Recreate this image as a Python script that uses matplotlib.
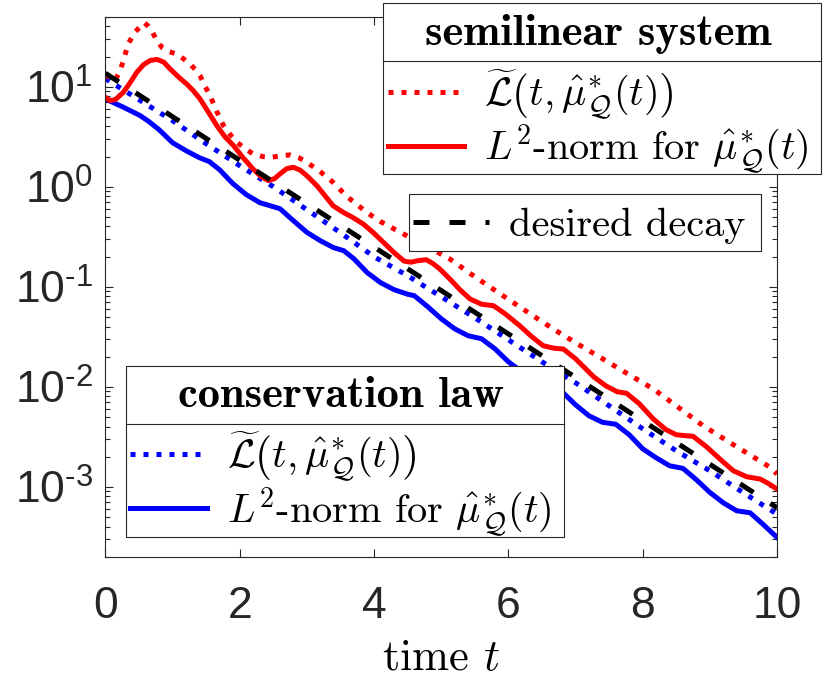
import numpy as np
import matplotlib
matplotlib.use('Agg')
import matplotlib.pyplot as plt
from matplotlib.font_manager import FontProperties
from matplotlib.lines import Line2D
from matplotlib.legend import Legend
from matplotlib.patches import Rectangle
from matplotlib.ticker import LogLocator, NullFormatter, FixedLocator, FixedFormatter

plt.rcParams['font.family'] = ['Liberation Sans', 'DejaVu Sans']
plt.rcParams['mathtext.fontset'] = 'custom'
plt.rcParams['mathtext.rm'] = 'Liberation Sans'
plt.rcParams['mathtext.it'] = 'Liberation Sans:italic'
plt.rcParams['mathtext.bf'] = 'Liberation Sans:bold'

# ---------------- data (stored as log10) -------------
# semilinear system: L-tilde (red dotted)
t_semi_Ltilde = [0.00, 0.07, 0.144, 0.22, 0.27, 0.34, 0.44, 0.52, 0.58, 0.63, 0.69, 0.76,
                 0.84, 0.95, 1.06, 1.16, 1.26, 1.34, 1.41, 1.48, 1.56, 1.66, 1.76, 1.86,
                 1.96, 2.08, 2.20, 2.35, 2.48, 2.62, 2.75, 2.88, 3.00, 3.20, 3.39, 3.60,
                 3.89, 4.10, 4.39, 4.60, 4.88, 5.13, 5.50, 5.92, 6.30, 6.67, 7.05, 7.41,
                 7.80, 8.16, 8.50, 8.90, 9.40, 9.90, 10.0]
log_semi_Ltilde = [1.117, 1.09, 1.06, 1.16, 1.26, 1.427, 1.544, 1.60, 1.64, 1.61, 1.56, 1.47,
                   1.394, 1.35, 1.327, 1.28, 1.227, 1.17, 1.11, 1.01, 0.91, 0.75, 0.61, 0.52,
                   0.444, 0.38, 0.327, 0.30, 0.294, 0.31, 0.317, 0.29, 0.244, 0.15, 0.044, -0.10,
                   -0.256, -0.35, -0.456, -0.53, -0.63, -0.723, -0.90, -1.09, -1.26, -1.423, -1.58, -1.723,
                   -1.88, -2.023, -2.19, -2.39, -2.60, -2.806, -2.873]

# semilinear system: L2-norm (red solid)
t_semi_L2 = [0.00, 0.07, 0.15, 0.27, 0.37, 0.47, 0.57, 0.67, 0.77, 0.87, 0.96, 1.10,
             1.21, 1.31, 1.41, 1.53, 1.66, 1.78, 1.91, 2.05, 2.20, 2.32, 2.43, 2.52,
             2.60, 2.70, 2.80, 2.90, 3.00, 3.15, 3.27, 3.39, 3.54, 3.69, 3.84, 3.99,
             4.14, 4.30, 4.45, 4.55, 4.65, 4.78, 4.88, 4.98, 5.13, 5.28, 5.43, 5.60,
             5.78, 5.95, 6.17, 6.35, 6.52, 6.68, 6.82, 7.00, 7.27, 7.45, 7.62, 7.76,
             7.95, 8.16, 8.35, 8.50, 8.65, 8.75, 8.95, 9.15, 9.35, 9.55, 9.75, 9.88, 10.0]
log_semi_L2 = [0.894, 0.86, 0.87, 0.944, 1.04, 1.144, 1.22, 1.262, 1.272, 1.245, 1.18, 1.09,
               1.027, 0.96, 0.877, 0.75, 0.61, 0.50, 0.41, 0.29, 0.177, 0.10, 0.06, 0.08,
               0.127, 0.18, 0.194, 0.165, 0.11, 0.01, -0.09, -0.19, -0.256, -0.31, -0.373, -0.46,
               -0.556, -0.66, -0.745, -0.755, -0.74, -0.73, -0.77, -0.823, -0.923, -1.03, -1.123, -1.175,
               -1.19, -1.27, -1.39, -1.50, -1.59, -1.615, -1.623, -1.72, -1.90, -1.99, -2.05, -2.065,
               -2.17, -2.323, -2.43, -2.48, -2.49, -2.495, -2.60, -2.723, -2.84, -2.90, -2.923, -2.97, -3.023]

# conservation law: L-tilde (blue dotted)
t_cons_Ltilde = [0.0, 0.5, 1.0, 1.5, 2.0, 2.5, 3.0, 3.5, 4.0, 4.5, 5.0,
                 5.5, 6.0, 6.5, 7.0, 7.5, 8.0, 8.5, 9.0, 9.5, 10.0]
log_cons_Ltilde = [1.08, 0.87, 0.66, 0.43, 0.21, 0.00, -0.23, -0.46, -0.70, -0.89, -1.10,
                   -1.31, -1.53, -1.75, -1.96, -2.19, -2.42, -2.64, -2.84, -3.06, -3.273]

# conservation law: L2-norm (blue solid)
t_cons_L2 = [0.0, 0.27, 0.52, 0.65, 0.8, 1.0, 1.2, 1.4, 1.55, 1.7, 1.9, 2.1, 2.3, 2.5, 2.6,
             2.8, 3.0, 3.2, 3.4, 3.55, 3.7, 3.9, 4.1, 4.3, 4.5, 4.6, 4.8, 5.0, 5.2, 5.4,
             5.6, 5.8, 6.0, 6.2, 6.4, 6.6, 6.8, 7.0, 7.2, 7.4, 7.6, 7.8, 8.0, 8.2, 8.4,
             8.6, 8.8, 9.0, 9.2, 9.4, 9.6, 9.8, 10.0]
log_cons_L2 = [0.877, 0.794, 0.71, 0.65, 0.57, 0.44, 0.36, 0.29, 0.25, 0.17, 0.03, -0.08, -0.16, -0.20, -0.22,
               -0.34, -0.456, -0.54, -0.61, -0.64, -0.72, -0.86, -0.96, -1.03, -1.075, -1.09, -1.20, -1.32, -1.42, -1.49,
               -1.52, -1.62, -1.75, -1.85, -1.92, -1.955, -2.05, -2.18, -2.29, -2.355, -2.375, -2.48, -2.62, -2.71, -2.79,
               -2.816, -2.93, -3.056, -3.16, -3.24, -3.26, -3.38, -3.506]

# desired decay (black dashed)
t_desired = [0, 1, 2, 3, 4, 5, 6, 7, 8, 9, 10]
log_desired = [1.134, 0.70, 0.265, -0.169, -0.603, -1.038, -1.472, -1.906, -2.340, -2.775, -3.209]

x_ticks = [0, 2, 4, 6, 8, 10]
y_major = [1e-3, 1e-2, 1e-1, 1e0, 1e1]
y_major_labels = [r'$\mathdefault{10^{\text{-}3}}$', r'$\mathdefault{10^{\text{-}2}}$',
                  r'$\mathdefault{10^{\text{-}1}}$', r'$\mathdefault{10^{0}}$', r'$\mathdefault{10^{1}}$']

label_Ltilde = r'$\widetilde{\mathcal{L}}\left(t,\hat{\mu}^{*}_{\mathcal{Q}}(t)\right)$'
label_L2 = r'$L^{2}$-norm for $\hat{\mu}^{*}_{\mathcal{Q}}(t)$'

# ---------------- figure ----------------
W, H = 830, 685
fig = plt.figure(figsize=(W / 100, H / 100), dpi=100)
L, R, B, T = 105.3, 777.0, 556.7, 16.7
ax = fig.add_axes([L / W, 1 - B / H, (R - L) / W, (B - T) / H])

axc = '#262626'
lw = 3.6
lw_px = lw * fig.dpi / 72.0
dot = (1.0, 1.6)
dash = (3.2, 4.0)

def val(lst):
    return np.power(10.0, np.asarray(lst))

h_bd, = ax.plot(t_cons_Ltilde, val(log_cons_Ltilde), color='#0000ff', lw=lw,
                linestyle=(0, dot), dash_capstyle='butt')
h_bs, = ax.plot(t_cons_L2, val(log_cons_L2), color='#0000ff', lw=lw)
h_rd, = ax.plot(t_semi_Ltilde, val(log_semi_Ltilde), color='#ff0000', lw=lw,
                linestyle=(0, dot), dash_capstyle='butt')
h_rs, = ax.plot(t_semi_L2, val(log_semi_L2), color='#ff0000', lw=lw)
h_k, = ax.plot(t_desired, val(log_desired), color='black', lw=lw,
               linestyle=(0, dash), dash_capstyle='butt')

ax.set_yscale('log')
ax.set_xlim(0, 10)
ax.set_ylim(2e-4, 50)
ax.set_xticks(x_ticks)
ax.set_xticklabels([str(v) for v in x_ticks])
ax.yaxis.set_major_locator(FixedLocator(y_major))
ax.yaxis.set_major_formatter(FixedFormatter(y_major_labels))
ax.yaxis.set_minor_locator(LogLocator(base=10, subs=np.arange(2, 10), numticks=20))
ax.yaxis.set_minor_formatter(NullFormatter())

for s in ax.spines.values():
    s.set_color(axc)
    s.set_linewidth(0.8)
ax.tick_params(which='both', direction='in', top=True, right=True, color=axc,
               labelcolor=axc, width=0.8)
ax.tick_params(which='major', length=5.8, labelsize=32)
ax.tick_params(axis='x', which='major', pad=21)
ax.tick_params(axis='y', which='major', pad=9)
ax.tick_params(which='minor', length=3.5)

ax.set_xlabel(r'time $t$', fontsize=32, family='cmr10', math_fontfamily='cm', color='black')
ax.xaxis.label.set_verticalalignment('baseline')
ax.xaxis.set_label_coords(0.5, -(670.0 - B) / (B - T))

# ---------------- legends ----------------
FS = 29
leg_prop = FontProperties(family='cmr10', size=FS)
title_prop = FontProperties(family='cmb10', size=32)
px2pt = 72.0 / fig.dpi


def frame_box(box, sep_y=None):
    x0, y0, x1, y1 = box
    rect = Rectangle((x0 / W, 1 - y1 / H), (x1 - x0) / W, (y1 - y0) / H,
                     transform=fig.transFigure, facecolor='white', edgecolor=axc,
                     lw=0.8, zorder=4, clip_on=False)
    ax.add_artist(rect)
    if sep_y is not None:
        ln = Line2D([x0 / W, x1 / W], [1 - sep_y / H, 1 - sep_y / H],
                    transform=fig.transFigure, color=axc, lw=0.8, zorder=4.5, clip_on=False)
        ax.add_artist(ln)


def fit_legend(handles, labels, title, hx, hys, title_top=None):
    ls_pt, sep_pt = 0.0, 10.0
    ax_x = hx
    ax_y = title_top if title else hys[0] - 20
    lg = None
    for it in range(3):
        if lg is not None:
            lg.remove()
        kw = dict(loc='upper left', bbox_to_anchor=(ax_x / W, 1 - ax_y / H),
                  bbox_transform=fig.transFigure, borderaxespad=0, borderpad=0,
                  labelspacing=ls_pt / FS, frameon=False, prop=leg_prop,
                  handlelength=1.9, handletextpad=0.5)
        if title:
            kw['title'] = title
            kw['title_fontproperties'] = title_prop
        lg = Legend(ax, handles, labels, **kw)
        if title:
            lg._legend_box.sep = sep_pt
        for tx in lg.get_texts():
            tx.set_math_fontfamily('cm')
        lg.set_zorder(5)
        ax.add_artist(lg)
        if it == 2:
            break
        fig.canvas.draw()
        rend = fig.canvas.get_renderer()
        hb = [h.get_window_extent(rend) for h in lg.legend_handles]
        ys = [H - (b.y0 + b.y1) / 2.0 for b in hb]
        ax_x += hx - (hb[0].x0 + lw_px / 2.0)
        if len(ys) > 1:
            ls_pt += ((hys[1] - hys[0]) - (ys[1] - ys[0])) * px2pt
        if title:
            tb = lg.get_title().get_window_extent(rend)
            dt = title_top - (H - tb.y1)
            ax_y += dt
            sep_pt += ((hys[0] - ys[0]) - dt) * px2pt
        else:
            ax_y += hys[0] - ys[0]
    return lg


# semilinear system legend
frame_box((383.3, 3.3, 821.0, 174.0), sep_y=61.0)
fit_legend([h_rd, h_rs], [label_Ltilde, label_L2], 'semilinear system',
           hx=390.0, hys=[91.7, 145.7], title_top=14.5)
# desired decay legend
frame_box((409.3, 194.3, 761.0, 250.7))
fit_legend([h_k], ['desired decay'], None, hx=415.0, hys=[221.7])
# conservation law legend
frame_box((125.7, 366.0, 564.0, 537.3), sep_y=423.7)
fit_legend([h_bd, h_bs], [label_Ltilde, label_L2], 'conservation law',
           hx=132.7, hys=[454.0, 508.3], title_top=377.0)

fig.savefig('out.png', dpi=100)
